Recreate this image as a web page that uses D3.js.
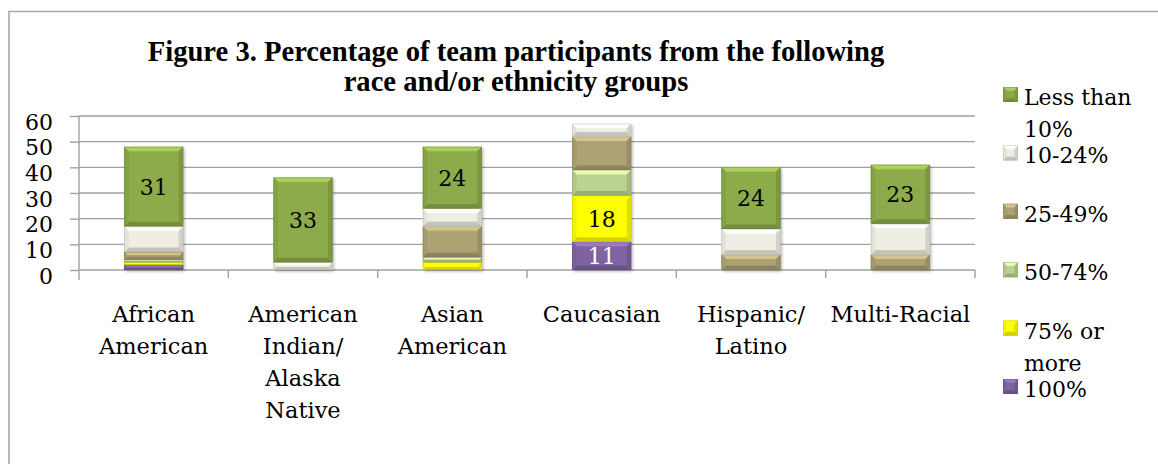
<!DOCTYPE html>
<html>
<head>
<meta charset="utf-8">
<script src="https://cdn.jsdelivr.net/npm/d3@7/dist/d3.min.js"></script>
<style>
  body { margin: 0; background: #fff; }
  svg { display: block; }
  text { font-family: "DejaVu Serif", "Liberation Serif", serif; fill: #000; }
</style>
</head>
<body>
<svg id="chart" width="1158" height="464"></svg>
<script>
// ---- data ----
const categories = ["African American", "American Indian/ Alaska Native", "Asian American",
                    "Caucasian", "Hispanic/ Latino", "Multi-Racial"];
const categoryLines = [["African", "American"], ["American", "Indian/", "Alaska", "Native"],
                       ["Asian", "American"], ["Caucasian"], ["Hispanic/", "Latino"], ["Multi-Racial"]];

// stacking order, bottom to top
const seriesNames = ["100%", "75% or more", "50-74%", "25-49%", "10-24%", "Less than 10%"];
const pct100      = [2, 0, 0, 11, 0, 0];
const pct75plus   = [1, 0, 3, 18, 0, 0];
const pct50to74   = [1, 0, 2, 10, 0, 0];
const pct25to49   = [3, 0, 12, 13, 6, 6];
const pct10to24   = [10, 3, 7, 5, 10, 12];
const pctUnder10  = [31, 33, 24, 0, 24, 23];
const seriesColors = ["#8064a2", "#ffff00", "#bcd290", "#ada274", "#efeee5", "#8dab4b"];

const legendLines = {
  "Less than 10%": ["Less than", "10%"],
  "10-24%": ["10-24%"],
  "25-49%": ["25-49%"],
  "50-74%": ["50-74%"],
  "75% or more": ["75% or", "more"],
  "100%": ["100%"]
};

// segments that carry a value label: [category, series]
const labelled = [
  ["African American", "Less than 10%"], ["American Indian/ Alaska Native", "Less than 10%"],
  ["Asian American", "Less than 10%"], ["Caucasian", "75% or more"], ["Caucasian", "100%"],
  ["Hispanic/ Latino", "Less than 10%"], ["Multi-Racial", "Less than 10%"]
];

const yTicks = [0, 10, 20, 30, 40, 50, 60];
const titleLines = ["Figure 3. Percentage of team participants from the following",
                    "race and/or ethnicity groups"];

// ---- build table ----
const seriesValues = [pct100, pct75plus, pct50to74, pct25to49, pct10to24, pctUnder10];
const table = categories.map((c, i) => {
  const row = { category: c };
  seriesNames.forEach((s, j) => row[s] = seriesValues[j][i]);
  return row;
});
const stacked = d3.stack().keys(seriesNames)(table);

// ---- layout ----
const svg = d3.select("#chart");
const plot = { left: 79, right: 975, top: 116, bottom: 270 };

const x = d3.scaleBand().domain(categories).range([plot.left, plot.right])
  .paddingInner(0.605).paddingOuter(0.3025);
const xEdge = d3.scaleBand().domain(categories).range([plot.left, plot.right]).padding(0);
const y = d3.scaleLinear().domain([0, 60]).range([plot.bottom, plot.top]);
const color = d3.scaleOrdinal().domain(seriesNames).range(seriesColors);

// outer frame (left and top edges visible)
svg.append("path")
  .attr("d", "M9,470 L9,11.5 L1160,11.5")
  .attr("fill", "none").attr("stroke", "#a6a6a6").attr("stroke-width", 1.6);

// shadow filter
const defs = svg.append("defs");
const f = defs.append("filter").attr("id", "shadow").attr("x", "-20%").attr("y", "-20%")
  .attr("width", "140%").attr("height", "140%");
f.append("feGaussianBlur").attr("stdDeviation", 1.6);

// gridlines
svg.append("g").selectAll("line").data(yTicks).join("line")
  .attr("x1", plot.left).attr("x2", plot.right)
  .attr("y1", d => y(d)).attr("y2", d => y(d))
  .attr("stroke", "#a0a0a0").attr("stroke-width", 1.4);

// y axis
const yAxis = svg.append("g").attr("transform", `translate(${plot.left},0)`)
  .call(d3.axisLeft(y).tickValues(yTicks).tickSize(9).tickPadding(17).tickFormat(d3.format("d")));
yAxis.select(".domain").remove();
yAxis.selectAll(".tick line").attr("stroke", "#a0a0a0").attr("stroke-width", 1.4);
yAxis.selectAll(".tick text").attr("font-size", 22).attr("dy", "0.6em")
  .style("font-family", '"DejaVu Serif", serif');
svg.append("line").attr("x1", plot.left).attr("x2", plot.left)
  .attr("y1", plot.top).attr("y2", plot.bottom + 10)
  .attr("stroke", "#a0a0a0").attr("stroke-width", 1.4);

// category separators
svg.append("g").selectAll("line").data(categories.slice(1).concat(["__end"])).join("line")
  .attr("x1", d => d === "__end" ? plot.right : xEdge(d))
  .attr("x2", d => d === "__end" ? plot.right : xEdge(d))
  .attr("y1", plot.bottom).attr("y2", plot.bottom + 8)
  .attr("stroke", "#a0a0a0").attr("stroke-width", 1.4);

// bevelled box
function bevelBox(g, bx, by, bw, bh, fill) {
  const c = d3.color(fill);
  const b = Math.max(0.5, Math.min(4.5, bh / 2.6, bw / 4));
  g.append("rect").attr("x", bx).attr("y", by).attr("width", bw).attr("height", bh).attr("fill", fill);
  const poly = (pts, col) => g.append("polygon").attr("points", pts.map(p => p.join(",")).join(" ")).attr("fill", col);
  poly([[bx, by], [bx + bw, by], [bx + bw - b, by + b], [bx + b, by + b]], c.brighter(0.55));
  poly([[bx, by + bh], [bx + bw, by + bh], [bx + bw - b, by + bh - b], [bx + b, by + bh - b]], c.darker(0.55));
  poly([[bx, by], [bx + b, by + b], [bx + b, by + bh - b], [bx, by + bh]], c.darker(0.15));
  poly([[bx + bw, by], [bx + bw - b, by + b], [bx + bw - b, by + bh - b], [bx + bw, by + bh]], c.darker(0.35));
  g.append("rect").attr("x", bx + 0.3).attr("y", by + 0.3).attr("width", Math.max(0, bw - 0.6))
    .attr("height", Math.max(0, bh - 0.6)).attr("fill", "none")
    .attr("stroke", c.darker(0.9)).attr("stroke-width", 0.6).attr("stroke-opacity", 0.6);
}

// bar shadows
const totals = table.map(r => ({ category: r.category, total: d3.sum(seriesNames, s => r[s]) }));
svg.append("g").selectAll("rect").data(totals).join("rect")
  .attr("x", d => x(d.category) + 1.5).attr("y", d => y(d.total) + 1.5)
  .attr("width", x.bandwidth()).attr("height", d => y(0) - y(d.total))
  .attr("fill", "#000").attr("opacity", 0.28).attr("filter", "url(#shadow)");

// bars
const barsG = svg.append("g");
stacked.forEach(layer => {
  layer.forEach(seg => {
    const v = seg[1] - seg[0];
    if (v <= 0) return;
    const cat = seg.data.category;
    bevelBox(barsG, x(cat), y(seg[1]), x.bandwidth(), y(seg[0]) - y(seg[1]), color(layer.key));
  });
});

// value labels
labelled.forEach(([cat, key]) => {
  const layer = stacked.find(l => l.key === key);
  const seg = layer[categories.indexOf(cat)];
  const v = seg[1] - seg[0];
  svg.append("text")
    .attr("x", x(cat) + x.bandwidth() / 2)
    .attr("y", (y(seg[0]) + y(seg[1])) / 2)
    .attr("dy", "0.36em")
    .attr("text-anchor", "middle").attr("font-size", 22)
    .style("fill", key === "100%" ? "#fff" : "#000")
    .text(v);
});

// category labels
categories.forEach((c, i) => {
  const t = svg.append("text").attr("text-anchor", "middle").attr("font-size", 22.5)
    .attr("x", x(c) + x.bandwidth() / 2).attr("y", 322);
  categoryLines[i].forEach((ln, k) => {
    t.append("tspan").attr("x", x(c) + x.bandwidth() / 2).attr("dy", k === 0 ? 0 : 32).text(ln);
  });
});

// legend (top series first)
const legendOrder = seriesNames.slice().reverse();
legendOrder.forEach((s, i) => {
  const baseY = 105 + i * 58.4;
  const g = svg.append("g");
  bevelBox(g, 1003, baseY - 18, 15, 15, color(s));
  const t = g.append("text").attr("font-size", 22).attr("x", 1024).attr("y", baseY);
  legendLines[s].forEach((ln, k) => {
    t.append("tspan").attr("x", 1024).attr("dy", k === 0 ? 0 : 32).text(ln);
  });
});

// title
const titleG = svg.append("g");
const titleCenter = 516;
const tl = titleLines.map((ln, k) => titleG.append("text")
  .attr("x", titleCenter).attr("y", 61 + k * 30)
  .attr("text-anchor", "middle").attr("font-weight", "bold").attr("font-size", 24)
  .style("font-family", '"Liberation Serif", serif')
  .text(ln));
const w0 = tl[0].node().getComputedTextLength();
const fs = 24 * 737 / w0;
tl.forEach(t => t.attr("font-size", fs));
</script>
</body>
</html>
